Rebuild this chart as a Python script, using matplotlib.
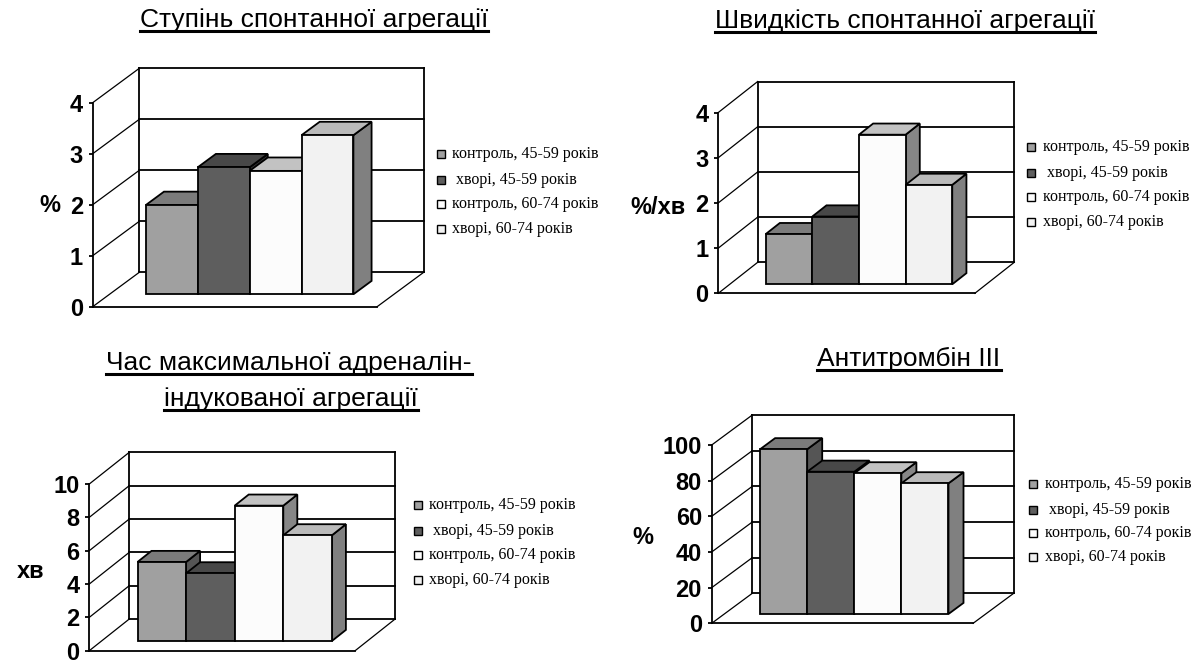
import matplotlib
matplotlib.use("Agg")
import matplotlib.pyplot as plt
from matplotlib.patches import Polygon, Rectangle
from matplotlib.lines import Line2D
import numpy as np

# ---------------- data ----------------
series_labels = ["контроль, 45-59 років", " хворі, 45-59 років",
                 "контроль, 60-74 років", "хворі, 60-74 років"]
series_colors = ["#a0a0a0", "#5e5e5e", "#fcfcfc", "#f2f2f2"]

title_1 = ["Ступінь спонтанної агрегації"]
title_2 = ["Швидкість спонтанної агрегації"]
title_3 = ["Час максимальної адреналін-", "індукованої агрегації"]
title_4 = ["Антитромбін III"]

ylabel_1 = "%"
ylabel_2 = "%/хв"
ylabel_3 = "хв"
ylabel_4 = "%"

vals_1 = [1.75, 2.49, 2.42, 3.12]
vals_2 = [1.11, 1.50, 3.31, 2.20]
vals_3 = [4.74, 4.06, 8.12, 6.34]
vals_4 = [92.4, 79.8, 78.9, 73.3]

yticks_1 = [0, 1, 2, 3, 4]
yticks_2 = [0, 1, 2, 3, 4]
yticks_3 = [0, 2, 4, 6, 8, 10]
yticks_4 = [0, 20, 40, 60, 80, 100]

# ---------------- layout / style (pixels) ----------------
FW, FH = 1198, 663
SANS = ["Liberation Sans", "DejaVu Sans"]
SERIF = ["Liberation Serif", "DejaVu Serif"]
LW = 1.3

def fx(x):
    return x / FW

def fy(y):
    return 1 - y / FH

def shade(hexcol, f):
    r, g, b = matplotlib.colors.to_rgb(hexcol)
    return (r * f, g * f, b * f)

panels = [
    dict(vals=vals_1, ticks=yticks_1, title=title_1, ylabel=ylabel_1,
         X0=92.7, Y0=306.7, W=51.9, K=51.0, DX=46.6, DY=34.4, gl=0.70, gr=0.78,
         f0=0.36, fb=0.39, lab=(50, 205),
         title_pos=[(314, 27)],
         leg=(437, 452, [154, 180, 204, 229])),
    dict(vals=vals_2, ticks=yticks_2, title=title_2, ylabel=ylabel_2,
         X0=718.3, Y0=293.3, W=46.65, K=45.2, DX=39.4, DY=31.0, gl=0.77, gr=0.73,
         f0=0.29, fb=0.36, lab=(658, 207),
         title_pos=[(905, 28)],
         leg=(1027, 1043, [147, 173, 197, 222])),
    dict(vals=vals_3, ticks=yticks_3, title=title_3, ylabel=ylabel_3,
         X0=89.3, Y0=650.7, W=48.6, K=16.67, DX=40.0, DY=31.7, gl=0.74, gr=0.73,
         f0=0.306, fb=0.35, lab=(31, 572),
         title_pos=[(289, 370), (291, 406)],
         leg=(414, 429, [505, 531, 555, 580])),
    dict(vals=vals_4, ticks=yticks_4, title=title_4, ylabel=ylabel_4,
         X0=711.7, Y0=623.3, W=47.1, K=1.783, DX=40.6, DY=30.0, gl=0.76, gr=0.79,
         f0=0.31, fb=0.37, lab=(643, 537),
         title_pos=[(909, 366)],
         leg=(1029, 1045, [484, 510, 533, 557])),
]

fig = plt.figure(figsize=(FW / 100, FH / 100), dpi=100)
fig.patch.set_facecolor("white")

title_texts = []

for p in panels:
    vals = p["vals"]
    ticks = p["ticks"]
    vmax = ticks[-1]
    n = len(vals)
    gl, gr, W, K = p["gl"], p["gr"], p["W"], p["K"]
    width_px = (n + gl + gr) * W
    height_px = vmax * K
    ax = fig.add_axes([fx(p["X0"]), fy(p["Y0"]), width_px / FW, height_px / FH])
    ax.set_xlim(-gl, n + gr)
    ax.set_ylim(0, vmax)
    ax.patch.set_visible(False)
    for s in ["top", "right"]:
        ax.spines[s].set_visible(False)
    for s in ["left", "bottom"]:
        ax.spines[s].set_linewidth(LW)
        ax.spines[s].set_zorder(20)
    ax.set_xticks([])
    ax.set_yticks(ticks)
    ax.set_yticklabels([str(t) for t in ticks], family=SANS, fontsize=17,
                       fontweight="bold")
    ax.tick_params(axis="y", length=3, width=LW, pad=4)

    ddx = p["DX"] / W
    ddy = p["DY"] / K
    xl, xr = -gl + ddx, n + gr + ddx
    # back wall with gridlines, and depth lines from the front axis
    for t in ticks:
        ax.add_line(Line2D([xl, xr], [t + ddy, t + ddy], color="k", lw=LW,
                           clip_on=False, zorder=1))
        ax.add_line(Line2D([-gl, xl], [t, t + ddy], color="k", lw=0.9,
                           clip_on=False, zorder=1))
    ax.add_line(Line2D([xl, xl], [ddy, vmax + ddy], color="k", lw=LW, clip_on=False, zorder=1))
    ax.add_line(Line2D([xr, xr], [ddy, vmax + ddy], color="k", lw=LW, clip_on=False, zorder=1))
    ax.add_line(Line2D([n + gr, xr], [0, ddy], color="k", lw=0.9, clip_on=False, zorder=1))

    # bars (front faces through ax.bar, then top and side faces)
    bx, by = p["f0"] * ddx, p["f0"] * ddy
    bdx, bdy = p["fb"] * ddx, p["fb"] * ddy
    x = np.arange(n)
    bars = ax.bar(x + bx, vals, width=1.0, bottom=by, align="edge",
                  color=series_colors, edgecolor="k", linewidth=LW, clip_on=False)
    for i, (b, v) in enumerate(zip(bars, vals)):
        z = 2 + 3 * i
        x0, x1 = i + bx, i + 1 + bx
        top = Polygon([(x0, v + by), (x1, v + by), (x1 + bdx, v + by + bdy),
                       (x0 + bdx, v + by + bdy)], closed=True,
                      facecolor=shade(series_colors[i], 0.77), edgecolor="k",
                      lw=LW, clip_on=False, zorder=z)
        side = Polygon([(x1, by), (x1, v + by), (x1 + bdx, v + by + bdy),
                        (x1 + bdx, by + bdy)], closed=True,
                       facecolor=shade(series_colors[i], 0.53), edgecolor="k",
                       lw=LW, clip_on=False, zorder=z)
        ax.add_patch(side)
        ax.add_patch(top)
        b.set_zorder(z + 1)

    # y label
    fig.text(fx(p["lab"][0]), fy(p["lab"][1]), p["ylabel"], family=SANS,
             fontsize=17, fontweight="bold", ha="center", va="center")

    # titles
    for line, (cx, by_) in zip(p["title"], p["title_pos"]):
        t = fig.text(fx(cx), fy(by_), line, family=SANS, fontsize=19,
                     ha="center", va="baseline")
        title_texts.append((t, by_))

    # legend
    sx, tx, rows = p["leg"]
    for k, ry in enumerate(rows):
        fig.patches.append(Rectangle((fx(sx), fy(ry + 4)), 8 / FW, 8 / FH,
                                     transform=fig.transFigure, facecolor=series_colors[k],
                                     edgecolor="k", lw=1.0))
        fig.text(fx(tx), fy(ry), series_labels[k], family=SERIF, fontsize=11.5,
                 ha="left", va="center")

# underline the titles
renderer = fig.canvas.get_renderer()
for t, base in title_texts:
    bb = t.get_window_extent(renderer=renderer)
    yline = fy(base + 4)
    fig.lines.append(Line2D([bb.x0 / FW, bb.x1 / FW], [yline, yline],
                            transform=fig.transFigure, color="k", lw=2.2))

fig.savefig("out.png", dpi=100, facecolor="white")
